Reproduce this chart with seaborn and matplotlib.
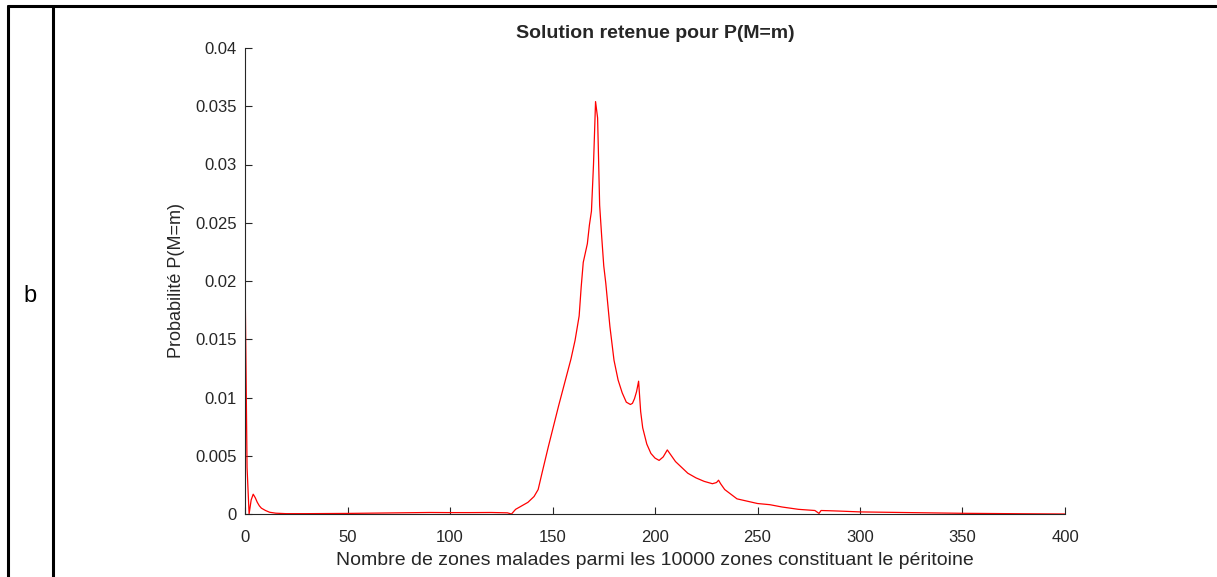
import matplotlib
matplotlib.use("Agg")
import matplotlib.pyplot as plt
from matplotlib.lines import Line2D
import seaborn as sns
import pandas as pd

# values
m_values = [0, 1, 2, 3, 4, 5, 6, 7, 8, 10, 12, 15, 20, 30, 50, 75, 90, 100, 110, 120,
            128, 130, 132, 135, 138, 141, 143, 145, 148, 150, 153, 156, 159, 161, 163,
            164, 165, 166, 167, 168, 169, 170, 171, 172, 173, 174, 175, 176, 178, 180,
            182, 184, 186, 188, 189, 190, 191, 192, 193, 194, 196, 198, 200, 202, 204,
            206, 208, 210, 213, 216, 220, 224, 228, 230, 231, 232, 234, 237, 240, 245,
            250, 256, 262, 270, 278, 280, 281, 285, 290, 300, 320, 350, 380, 400]
p_values = [0.0207, 0.0040, 0.0, 0.0012, 0.0017, 0.0014, 0.0010, 0.0007, 0.0005, 0.0003,
            0.00015, 0.00007, 0.00003, 0.00003, 0.00005, 0.0001, 0.00013, 0.00012, 0.00012,
            0.00013, 0.0001, 0.0, 0.0004, 0.0007, 0.0010, 0.0015, 0.0021, 0.0036, 0.0058,
            0.0072, 0.0093, 0.0113, 0.0133, 0.0149, 0.0170, 0.0195, 0.0216, 0.0224, 0.0232,
            0.0248, 0.0260, 0.0300, 0.0354, 0.0340, 0.0265, 0.0238, 0.0213, 0.0198, 0.0161,
            0.0132, 0.0115, 0.0104, 0.0096, 0.0094, 0.0095, 0.0099, 0.0105, 0.0114, 0.0088,
            0.0074, 0.0060, 0.0052, 0.0048, 0.0046, 0.0049, 0.0055, 0.0050, 0.0045, 0.0040,
            0.0035, 0.0031, 0.0028, 0.0026, 0.0027, 0.0029, 0.0026, 0.0021, 0.0017, 0.0013,
            0.0011, 0.0009, 0.0008, 0.0006, 0.0004, 0.0003, 0.00005, 0.0003, 0.00028,
            0.00025, 0.00018, 0.00013, 0.00006, 0.00002, 0.0]

x_ticks = [0, 50, 100, 150, 200, 250, 300, 350, 400]
y_ticks = [0, 0.005, 0.01, 0.015, 0.02, 0.025, 0.03, 0.035, 0.04]
y_tick_labels = ["0", "0.005", "0.01", "0.015", "0.02", "0.025", "0.03", "0.035", "0.04"]

sns.set_style("ticks")
plt.rcParams["font.family"] = ["Liberation Sans", "DejaVu Sans"]

dark = "#262626"
fig = plt.figure(figsize=(12.17, 5.77), dpi=100)
ax = fig.add_axes([245 / 1217, 1 - 514 / 577, 820 / 1217, 466 / 577])

df = pd.DataFrame({"m": m_values, "p": p_values})
sns.lineplot(data=df, x="m", y="p", ax=ax, color="#ff0000", linewidth=0.9)

ax.set_xlim(0, 400)
ax.set_ylim(0, 0.04)
ax.set_xticks(x_ticks)
ax.set_xticklabels([str(t) for t in x_ticks])
ax.set_yticks(y_ticks)
ax.set_yticklabels(y_tick_labels)
ax.tick_params(direction="in", length=5, width=0.8, color=dark, labelcolor=dark,
               labelsize=12, pad=6)
ax.tick_params(axis="x", pad=11.5)
for side in ["top", "right"]:
    ax.spines[side].set_visible(False)
for side in ["left", "bottom"]:
    ax.spines[side].set_color(dark)
    ax.spines[side].set_linewidth(0.8)

ax.set_title("Solution retenue pour P(M=m)", fontsize=14, fontweight="bold", pad=7.5)
ax.set_xlabel("Nombre de zones malades parmi les 10000 zones constituant le péritoine",
              fontsize=14, color=dark, labelpad=5)
ax.set_ylabel("Probabilité P(M=m)", fontsize=13, color=dark, labelpad=7)

# table frame around the figure
W, H = 1217, 577
fig.add_artist(Line2D([8 / W, 1216 / W], [1 - 6 / H, 1 - 6 / H], color="black", linewidth=2.2))
fig.add_artist(Line2D([8 / W, 8 / W], [0, 1 - 6 / H], color="black", linewidth=2.2))
fig.add_artist(Line2D([53 / W, 53 / W], [0, 1 - 6 / H], color="black", linewidth=2.2))
fig.text(30 / W, 1 - 296 / H, "b", fontsize=17, ha="center", va="center", color="black")

fig.savefig("out.png", dpi=100)
